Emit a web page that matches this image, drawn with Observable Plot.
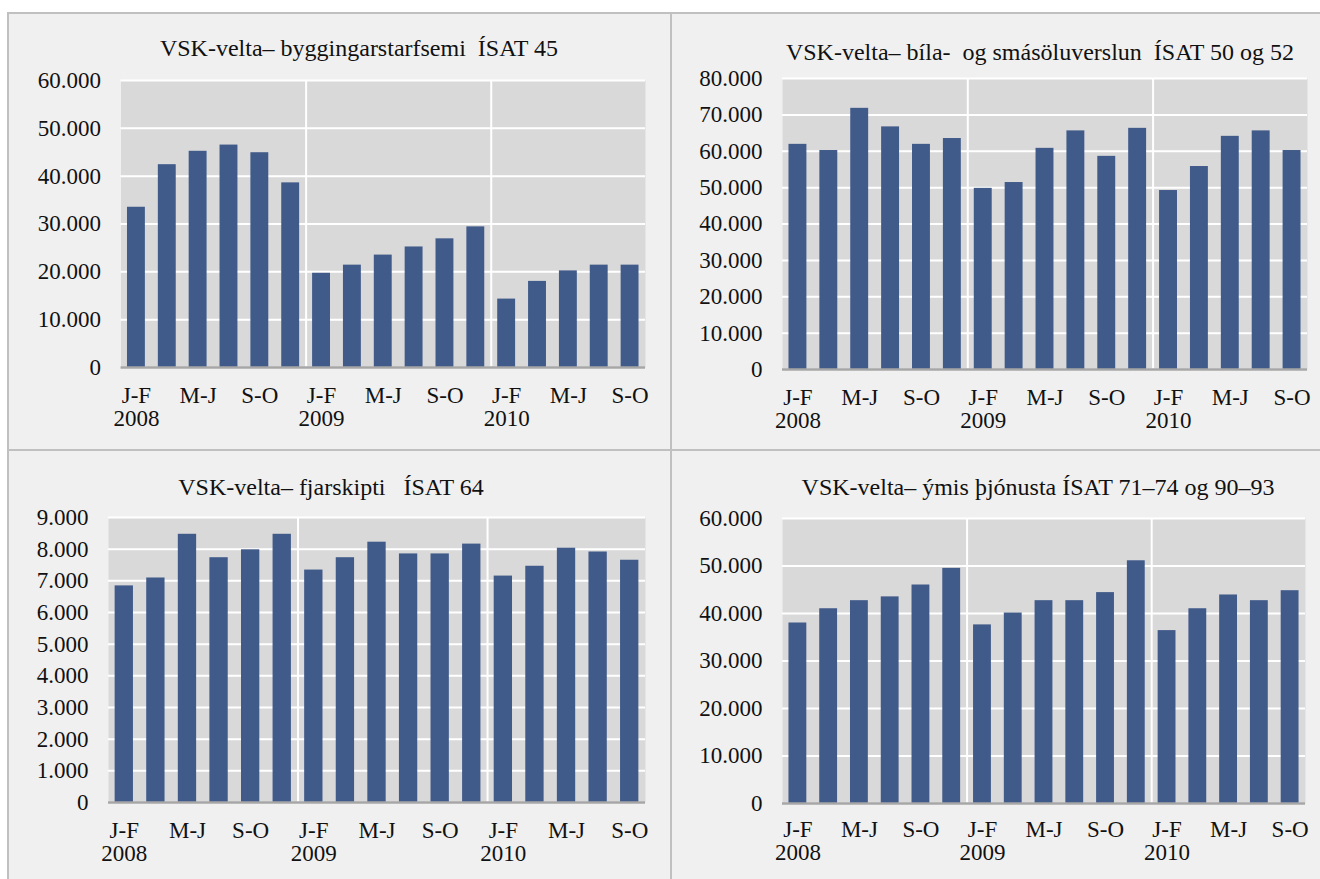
<!DOCTYPE html>
<html><head><meta charset="utf-8">
<script src="https://cdn.jsdelivr.net/npm/d3@7"></script>
<script src="https://cdn.jsdelivr.net/npm/@observablehq/plot@0.6"></script>
<style>
html,body{margin:0;padding:0;background:#fff;width:1320px;height:879px;overflow:hidden;}
#frame{position:absolute;left:7px;top:12px;width:1313px;height:867px;background:#f0f0f0;border-top:2px solid #c0c0c0;border-left:2px solid #c0c0c0;box-sizing:border-box;}
.vline{position:absolute;left:670px;top:12px;width:2px;height:867px;background:#c0c0c0;}
.hline{position:absolute;left:7px;top:449px;width:1313px;height:2px;background:#c0c0c0;}
.panel{position:absolute;}
.title{position:absolute;font-family:"Liberation Serif","Times New Roman",serif;font-size:24px;line-height:24px;white-space:pre;transform:translateX(-50%);color:#111;}
</style></head>
<body>
<div id="frame"></div>
<div class="vline"></div>
<div class="hline"></div>
<div id="root"></div>
<script>
// ---- data ----
const periods = ["J-F", "M-A", "M-J", "J-Á", "S-O", "N-D"];
const years = ["2008", "2009", "2010"];
const shownPeriods = ["J-F", "M-J", "S-O"];

const valuesBygg  = [33500, 42400, 45200, 46500, 44900, 38600, 19700, 21400, 23500, 25200, 26900, 29400, 14300, 18000, 20200, 21400, 21400];
const valuesBila  = [61900, 60200, 71800, 66700, 61900, 63500, 49800, 51400, 60800, 65600, 58600, 66300, 49200, 55800, 64100, 65600, 60200];
const valuesFjar  = [6840, 7090, 8470, 7730, 7980, 8470, 7340, 7730, 8220, 7850, 7850, 8160, 7150, 7460, 8030, 7910, 7650];
const valuesThjon = [38000, 41000, 42700, 43500, 46000, 49500, 37600, 40100, 42700, 42700, 44400, 51100, 36400, 41000, 43900, 42700, 44800];

const titles = [
  "VSK-velta– byggingarstarfsemi  ÍSAT 45",
  "VSK-velta– bíla-  og smásöluverslun  ÍSAT 50 og 52",
  "VSK-velta– fjarskipti   ÍSAT 64",
  "VSK-velta– ýmis þjónusta ÍSAT 71–74 og 90–93"
];
const ticksBygg  = [0, 10000, 20000, 30000, 40000, 50000, 60000];
const ticksBila  = [0, 10000, 20000, 30000, 40000, 50000, 60000, 70000, 80000];
const ticksFjar  = [0, 1000, 2000, 3000, 4000, 5000, 6000, 7000, 8000, 9000];
const ticksThjon = [0, 10000, 20000, 30000, 40000, 50000, 60000];

// ---- derived ----
const categories = [];
for (const yr of years) for (const p of periods) categories.push({key: yr + " " + p, year: yr, period: p});
const nBars = valuesBygg.length;
const cats = categories.slice(0, nBars);
const keys = cats.map(c => c.key);
const shownKeys = cats.filter(c => shownPeriods.includes(c.period)).map(c => c.key);
const yearStarts = cats.filter((c, i) => i > 0 && c.period === periods[0]).map(c => c.key);
const labelOf = k => {
  const c = cats.find(d => d.key === k);
  return c.period === periods[0] ? c.period + "\n" + c.year : c.period;
};
const fmt = d3.formatLocale({decimal: ",", thousands: ".", grouping: [3], currency: ["", ""]}).format(",d");

// ---- layout ----
const layout = [
  {left: 9,   top: 14,  width: 661, height: 435, ml: 111.5, mr: 25, mt: 66, mb: 82, tx: 359,  ty: 48,  pad: 19},
  {left: 672, top: 14,  width: 648, height: 435, ml: 110,   mr: 13, mt: 64, mb: 80, tx: 1040, ty: 52,  pad: 19},
  {left: 9,   top: 451, width: 661, height: 428, ml: 99,    mr: 25, mt: 66, mb: 77, tx: 331,  ty: 487, pad: 19},
  {left: 672, top: 451, width: 648, height: 428, ml: 110,   mr: 15, mt: 67, mb: 76, tx: 1038, ty: 487, pad: 17}
];
const series = [valuesBygg, valuesBila, valuesFjar, valuesThjon];
const tickSets = [ticksBygg, ticksBila, ticksFjar, ticksThjon];

const root = document.getElementById("root");
series.forEach((vals, i) => {
  const L = layout[i];
  const ticks = tickSets[i];
  const data = keys.map((k, j) => ({key: k, value: vals[j]}));
  const step = (L.width - L.ml - L.mr) / nBars;
  const chart = Plot.plot({
    width: L.width,
    height: L.height,
    marginLeft: L.ml, marginRight: L.mr, marginTop: L.mt, marginBottom: L.mb,
    style: {fontFamily: '"Liberation Serif", "Times New Roman", serif', fontSize: "23px", background: "transparent", color: "#111", overflow: "visible"},
    x: {type: "band", domain: keys, paddingInner: 0.42, paddingOuter: 0.21, align: 0.5, round: false, label: null},
    y: {domain: [0, ticks[ticks.length - 1]], label: null},
    marks: [
      Plot.frame({fill: "#d9d9d9", stroke: null}),
      Plot.ruleY(ticks, {stroke: "white", strokeWidth: 2}),
      Plot.ruleX(yearStarts, {dx: -step / 2, stroke: "white", strokeWidth: 2}),
      Plot.barY(data, {x: "key", y: "value", fill: "#405a89"}),
      Plot.ruleY([0], {stroke: "#a6a6a6", strokeWidth: 2.5}),
      Plot.axisY({ticks: ticks, tickSize: 0, tickPadding: 20, tickFormat: fmt, fontSize: 23, label: null}),
      Plot.axisX({ticks: shownKeys, tickSize: 0, tickPadding: L.pad, tickFormat: labelOf, fontSize: 23, lineHeight: 1, label: null})
    ]
  });
  const wrap = document.createElement("div");
  wrap.className = "panel";
  wrap.style.left = L.left + "px";
  wrap.style.top = L.top + "px";
  wrap.appendChild(chart);
  root.appendChild(wrap);
  const t = document.createElement("div");
  t.className = "title";
  t.textContent = titles[i];
  t.style.left = L.tx + "px";
  t.style.top = (L.ty - 12) + "px";
  root.appendChild(t);
});
</script>
</body></html>
